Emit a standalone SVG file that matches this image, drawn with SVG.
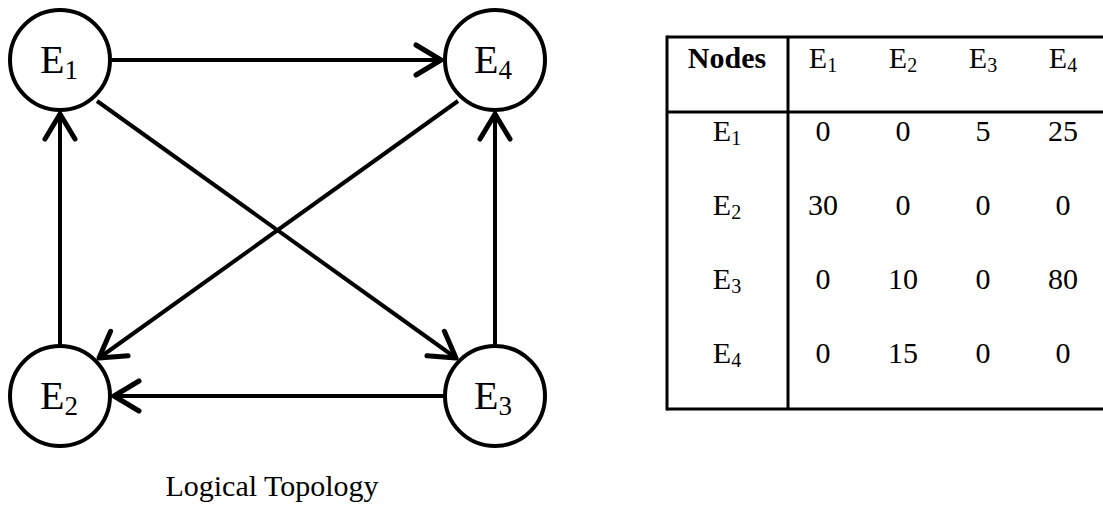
<svg xmlns="http://www.w3.org/2000/svg" width="1103" height="515" viewBox="0 0 1103 515">
  <style>
    .node circle { fill: #fff; stroke: #000; stroke-width: 4; }
    .lbl { font-family: "Liberation Serif", "Times New Roman", serif; fill: #000; }
    .nl { font-size: 40px; }
    .ns { font-size: 27px; }
    .edge { stroke: #000; stroke-width: 4; fill: none; marker-end: url(#chev); }
    .grid { stroke: #000; stroke-width: 3; }
    .tc { font-family: "Liberation Serif", "Times New Roman", serif; font-size: 30px; text-anchor: middle; fill: #000; }
    .ts { font-size: 20px; }
  </style>
  <defs>
    <marker id="chev" markerUnits="userSpaceOnUse" markerWidth="40" markerHeight="40" viewBox="-24 -16 28 32" refX="0" refY="0" orient="auto">
      <path d="M-20,-12 L0,0 L-20,12" fill="none" stroke="#000" stroke-width="4" stroke-linecap="round" stroke-linejoin="round"/>
    </marker>
  </defs>

  <!-- connectors -->
  <g id="edges">
    <line class="edge" x1="112" y1="60" x2="441" y2="60"/>
    <line class="edge" x1="60" y1="344" x2="60" y2="114"/>
    <line class="edge" x1="495" y1="344" x2="495" y2="114"/>
    <line class="edge" x1="443" y1="396" x2="114" y2="396"/>
    <line class="edge" x1="97" y1="101" x2="456" y2="358"/>
    <line class="edge" x1="458" y1="101" x2="99" y2="358"/>
  </g>

  <!-- nodes -->
  <g id="E1" class="node">
    <circle cx="60" cy="60" r="50"/>
    <text class="lbl nl" x="40" y="73">E<tspan class="ns" dy="6">1</tspan></text>
  </g>
  <g id="E4" class="node">
    <circle cx="495" cy="60" r="50"/>
    <text class="lbl nl" x="474" y="73">E<tspan class="ns" dy="6">4</tspan></text>
  </g>
  <g id="E2" class="node">
    <circle cx="60" cy="396" r="50"/>
    <text class="lbl nl" x="40" y="409">E<tspan class="ns" dy="6">2</tspan></text>
  </g>
  <g id="E3" class="node">
    <circle cx="495" cy="396" r="50"/>
    <text class="lbl nl" x="474" y="409">E<tspan class="ns" dy="6">3</tspan></text>
  </g>

  <text id="caption" class="lbl" x="272" y="496" font-size="30" text-anchor="middle">Logical Topology</text>

  <!-- traffic matrix -->
  <g id="matrix">
    <line class="grid" x1="667" y1="37" x2="1103" y2="37"/>
    <line class="grid" x1="667" y1="112" x2="1103" y2="112"/>
    <line class="grid" x1="667" y1="409" x2="1103" y2="409"/>
    <line class="grid" x1="667" y1="35.5" x2="667" y2="410.5"/>
    <line class="grid" x1="788" y1="37" x2="788" y2="409"/>

    <text class="tc" x="727" y="68" font-weight="bold">Nodes</text>
    <text class="tc" x="823" y="68">E<tspan class="ts" dy="4">1</tspan></text>
    <text class="tc" x="903" y="68">E<tspan class="ts" dy="4">2</tspan></text>
    <text class="tc" x="983" y="68">E<tspan class="ts" dy="4">3</tspan></text>
    <text class="tc" x="1063" y="68">E<tspan class="ts" dy="4">4</tspan></text>

    <text class="tc" x="727" y="141">E<tspan class="ts" dy="4">1</tspan></text>
    <text class="tc" x="823" y="141">0</text>
    <text class="tc" x="903" y="141">0</text>
    <text class="tc" x="983" y="141">5</text>
    <text class="tc" x="1063" y="141">25</text>

    <text class="tc" x="727" y="215">E<tspan class="ts" dy="4">2</tspan></text>
    <text class="tc" x="823" y="215">30</text>
    <text class="tc" x="903" y="215">0</text>
    <text class="tc" x="983" y="215">0</text>
    <text class="tc" x="1063" y="215">0</text>

    <text class="tc" x="727" y="289">E<tspan class="ts" dy="4">3</tspan></text>
    <text class="tc" x="823" y="289">0</text>
    <text class="tc" x="903" y="289">10</text>
    <text class="tc" x="983" y="289">0</text>
    <text class="tc" x="1063" y="289">80</text>

    <text class="tc" x="727" y="363">E<tspan class="ts" dy="4">4</tspan></text>
    <text class="tc" x="823" y="363">0</text>
    <text class="tc" x="903" y="363">15</text>
    <text class="tc" x="983" y="363">0</text>
    <text class="tc" x="1063" y="363">0</text>
  </g>
</svg>
